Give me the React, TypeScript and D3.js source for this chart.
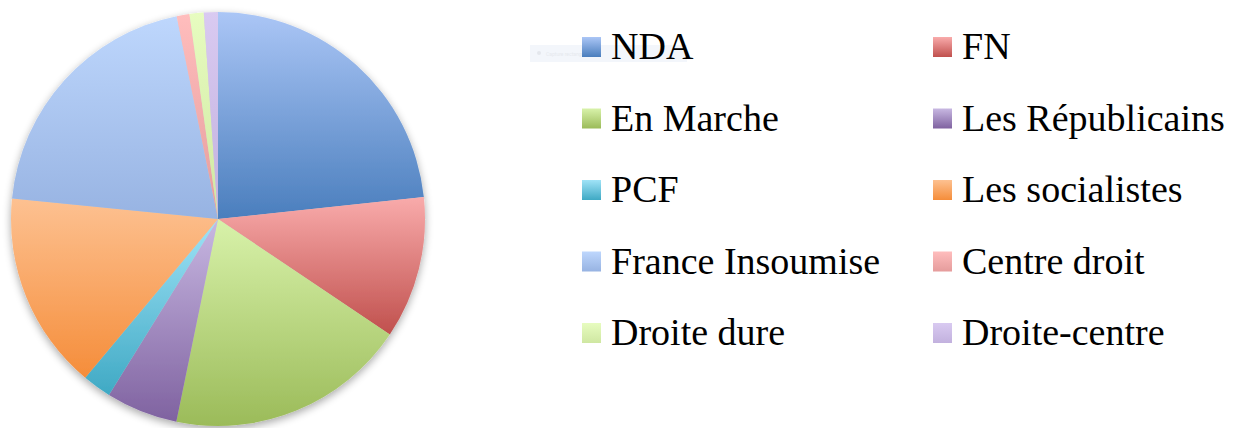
import React from "react";
import * as d3 from "d3";

// parties, in slice order (clockwise from 12 o'clock)
const parties = [
  "NDA",
  "FN",
  "En Marche",
  "Les Républicains",
  "PCF",
  "Les socialistes",
  "France Insoumise",
  "Centre droit",
  "Droite dure",
  "Droite-centre",
];
const shares = [23.3, 11.1, 18.8, 5.6, 2.25, 15.5, 20.2, 1.0, 1.1, 1.1];
// light (top) / dark (bottom) gradient stops
const topColors = ["#abc6f6", "#f9abab", "#d8f2aa", "#c8b8e2", "#a0e3f7", "#fdc191", "#bed7fd", "#ffbdbd", "#e7fcc0", "#d9caf1"];
const bottomColors = ["#4a7ebd", "#c0504d", "#9bbb59", "#7f62a0", "#3fa9c4", "#f58d3a", "#97b3e2", "#e59c9c", "#cfe7a2", "#c2b1de"];

const W = 1237;
const H = 428;
const cx = 218;
const cy = 219;
const R = 207;

export default function App() {
  const pie = d3
    .pie<number>()
    .sort(null)
    .value((d) => d);
  const arcs = pie(shares);
  const arc = d3.arc<d3.PieArcDatum<number>>().innerRadius(0).outerRadius(R);

  // legend: two columns, rows in pairs
  const colX = [582, 933];
  const rowY = d3.range(5).map((i) => 59 + i * 71.5);

  return (
    <svg
      width={W}
      height={H}
      style={{ position: "absolute", left: 0, top: 0, background: "#fff" }}
    >
      <defs>
        {parties.map((p, i) => (
          <linearGradient key={p} id={`g${i}`} x1="0" y1="0" x2="0" y2="1">
            <stop offset="0" stopColor={topColors[i]} />
            <stop offset="1" stopColor={bottomColors[i]} />
          </linearGradient>
        ))}
        <filter id="shadow" x="-10%" y="-10%" width="120%" height="125%">
          <feGaussianBlur in="SourceAlpha" stdDeviation="4" />
          <feOffset dx="0" dy="3" result="b" />
          <feComponentTransfer>
            <feFuncA type="linear" slope="0.35" />
          </feComponentTransfer>
          <feMerge>
            <feMergeNode />
            <feMergeNode in="SourceGraphic" />
          </feMerge>
        </filter>
      </defs>

      <g transform={`translate(${cx},${cy})`} filter="url(#shadow)">
        {arcs.map((a, i) => (
          <path key={parties[i]} d={arc(a) || ""} fill={`url(#g${i})`} />
        ))}
      </g>

      {/* faint leftover tooltip from the screenshot */}
      <rect x={530} y={45} width={157} height={17} fill="#f3f6fb" />
      <circle cx={539} cy={53} r={2} fill="#e4e7ec" />
      <text x={546} y={56} fontSize={5} fill="#e6e9ee" fontFamily="Roboto">
        Capture rectangulaire
      </text>

      {parties.map((p, i) => {
        const x = colX[i % 2];
        const y = rowY[Math.floor(i / 2)];
        return (
          <g key={p}>
            <rect x={x} y={y - 22} width={19} height={20} fill={`url(#g${i})`} />
            <text
              x={x + 29}
              y={y}
              fontSize={38}
              fontFamily="'Liberation Serif', serif"
              fill="#000"
            >
              {p}
            </text>
          </g>
        );
      })}
    </svg>
  );
}
